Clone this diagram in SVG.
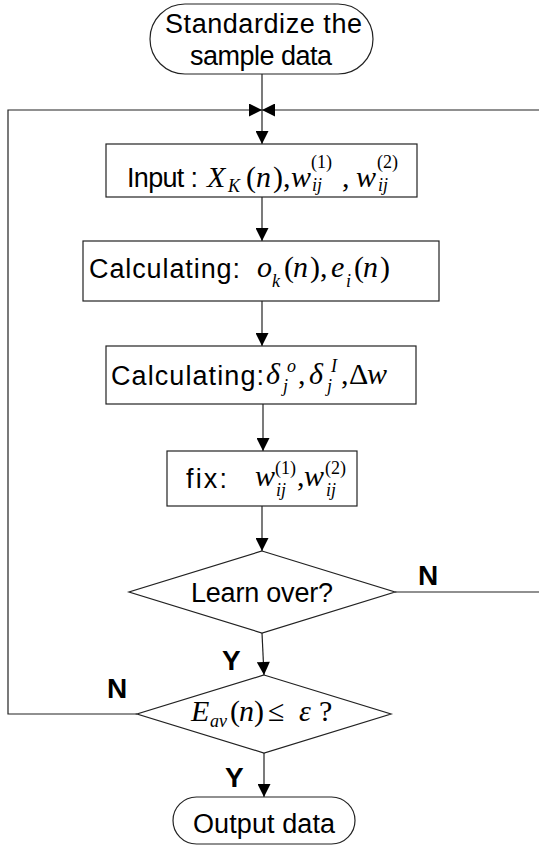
<svg xmlns="http://www.w3.org/2000/svg" width="539" height="848" viewBox="0 0 539 848">
<style>
.box{fill:#fff;stroke:#222;stroke-width:1.2}
.ln{fill:none;stroke:#222;stroke-width:1.2}
.t{font-family:"Liberation Sans",Arial,sans-serif;font-size:27px;fill:#000}
.b{font-family:"Liberation Sans",Arial,sans-serif;font-size:28px;font-weight:bold;fill:#000}
.m{font-family:"Liberation Serif","Times New Roman",serif;font-size:30px;fill:#000}
.i{font-style:italic}
.s{font-size:18px}
</style>
<defs>
<marker id="ah" viewBox="0 0 10 10" refX="10" refY="5" markerWidth="14" markerHeight="13" markerUnits="userSpaceOnUse" orient="auto"><path d="M0,0 L10,5 L0,10 z" fill="#000"/></marker>
</defs>
<g id="connectors">
<path class="ln" d="M262,74 V144" marker-end="url(#ah)"/>
<path class="ln" d="M137,714 H8 V110 H262" marker-end="url(#ah)"/>
<path class="ln" d="M395,592 H541 V110 H262" marker-end="url(#ah)"/>
<path class="ln" d="M262,197 V241" marker-end="url(#ah)"/>
<path class="ln" d="M262,301 V346" marker-end="url(#ah)"/>
<path class="ln" d="M263,404 V451" marker-end="url(#ah)"/>
<path class="ln" d="M262,506 V551" marker-end="url(#ah)"/>
<path class="ln" d="M262,633 L264,675" marker-end="url(#ah)"/>
<path class="ln" d="M264,753 V797" marker-end="url(#ah)"/>
<text class="b" x="418" y="585">N</text>
<text class="b" x="222" y="670">Y</text>
<text class="b" x="107" y="698">N</text>
<text class="b" x="225" y="787">Y</text>
</g>
<g id="start">
<rect class="box" x="150" y="4" width="223" height="70" rx="35" ry="35"/>
<text class="t" x="165" y="33" textLength="197" lengthAdjust="spacing">Standardize the</text>
<text class="t" x="190" y="65" textLength="142" lengthAdjust="spacing">sample data</text>
</g>
<g id="input">
<rect class="box" x="106" y="144" width="311" height="53"/>
<text class="t" x="127" y="187" textLength="71" lengthAdjust="spacing">Input :</text>
<text class="m"><tspan class="i" x="207" y="187">X</tspan><tspan class="i s" x="228" y="192">K</tspan><tspan x="246" y="187">(</tspan><tspan class="i" x="256" y="187">n</tspan><tspan x="273" y="187">),</tspan><tspan class="i" x="291" y="187">w</tspan><tspan class="s" x="311" y="168">(1)</tspan><tspan class="i s" x="312" y="191">ij</tspan><tspan x="342" y="187">,</tspan><tspan class="i" x="356" y="187">w</tspan><tspan class="s" x="377" y="168">(2)</tspan><tspan class="i s" x="378" y="191">ij</tspan></text>
</g>
<g id="calc1">
<rect class="box" x="83" y="241" width="356" height="60"/>
<text class="t" x="89" y="278" textLength="151" lengthAdjust="spacing">Calculating:</text>
<text class="m"><tspan class="i" x="257" y="277">o</tspan><tspan class="i s" x="272" y="287">k</tspan><tspan x="284" y="277">(</tspan><tspan class="i" x="293" y="277">n</tspan><tspan x="310" y="277">),</tspan><tspan class="i" x="331" y="277">e</tspan><tspan class="i s" x="346" y="287">i</tspan><tspan x="354" y="277">(</tspan><tspan class="i" x="363" y="277">n</tspan><tspan x="380" y="277">)</tspan></text>
</g>
<g id="calc2">
<rect class="box" x="106" y="346" width="310" height="58"/>
<text class="t" x="111" y="385" textLength="153" lengthAdjust="spacing">Calculating:</text>
<text class="m"><tspan class="i" x="266" y="384">δ</tspan><tspan class="i s" x="287" y="372">o</tspan><tspan class="i s" x="283" y="392">j</tspan><tspan x="298" y="384">,</tspan><tspan class="i" x="309" y="384">δ</tspan><tspan class="i s" x="331" y="372">I</tspan><tspan class="i s" x="327" y="392">j</tspan><tspan x="341" y="384">,</tspan><tspan x="349" y="384">Δ</tspan><tspan class="i" x="367" y="384">w</tspan></text>
</g>
<g id="fix">
<rect class="box" x="167" y="451" width="190" height="55"/>
<text class="t" x="186" y="488" textLength="41" lengthAdjust="spacing">fix:</text>
<text class="m"><tspan class="i" x="255" y="486">w</tspan><tspan class="s" x="275" y="474">(1)</tspan><tspan class="i s" x="276" y="496">ij</tspan><tspan x="297" y="486">,</tspan><tspan class="i" x="304" y="486">w</tspan><tspan class="s" x="325" y="474">(2)</tspan><tspan class="i s" x="326" y="496">ij</tspan></text>
</g>
<g id="learn">
<polygon class="box" points="262,551 395,592 262,633 129,592"/>
<text class="t" x="191" y="602" textLength="142" lengthAdjust="spacing">Learn over?</text>
</g>
<g id="error">
<polygon class="box" points="264,675 391,714 264,753 137,714"/>
<text class="m"><tspan class="i" x="191" y="721">E</tspan><tspan class="i s" x="210" y="727">av</tspan><tspan x="230" y="721">(</tspan><tspan class="i" x="239" y="721">n</tspan><tspan x="254" y="721">)</tspan><tspan x="268" y="721">≤</tspan><tspan class="i" x="299" y="721">ε</tspan><tspan x="319" y="721">?</tspan></text>
</g>
<g id="output">
<rect class="box" x="173" y="797" width="182" height="47" rx="23.5" ry="23.5"/>
<text class="t" x="193" y="833" textLength="142" lengthAdjust="spacing">Output data</text>
</g>
</svg>
